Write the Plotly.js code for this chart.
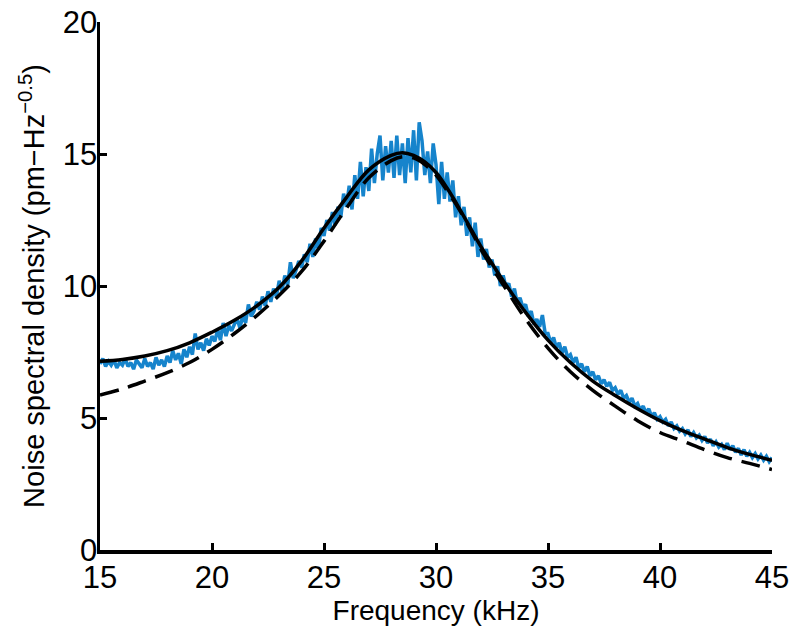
<!DOCTYPE html>
<html>
<head>
<meta charset="utf-8">
<script src="https://cdn.plot.ly/plotly-3.0.1.min.js"></script>
<style>html,body{margin:0;padding:0;background:#fff;}#chart{width:800px;height:635px;}</style>
</head>
<body>
<div id="chart"></div>
<script>
// Measured noise spectral density (blue), sampled from 15 kHz every 0.125 kHz
const measStart = 15;
const measStep = 0.125;
const measured = [
  7.05,7.25,6.95,7.15,7.0,7.2,6.9,7.1,
  7.0,7.25,6.95,7.1,6.85,7.2,7.05,6.9,
  7.25,6.95,7.1,6.85,7.3,7.0,7.2,6.95,
  7.35,7.1,7.55,7.2,7.45,7.05,7.6,7.3,
  7.7,7.4,8.2,7.6,7.85,7.55,8.0,7.75,
  8.1,7.9,8.35,7.95,8.6,8.1,8.5,8.3,
  8.55,8.75,8.4,8.9,8.6,9.3,8.85,9.05,
  9.4,9.1,9.6,9.25,9.8,9.4,9.9,9.6,
  10.2,9.8,10.4,10.0,10.9,10.3,10.6,10.95,
  10.7,11.2,10.9,11.6,11.1,11.8,11.4,12.2,
  11.9,12.5,12.1,12.8,12.3,13.0,12.6,13.5,
  13.0,13.8,12.9,14.2,13.3,14.7,13.4,14.5,
  13.6,15.2,13.9,15.0,15.7,14.0,15.3,14.3,
  15.5,14.1,15.7,14.2,15.4,13.9,15.6,14.3,
  15.9,14.0,16.2,15.5,14.2,15.1,13.9,15.4,
  14.6,13.1,14.7,13.3,14.3,13.2,14.0,12.6,
  13.4,12.3,13.0,11.9,12.6,11.5,12.4,11.1,
  11.8,11.0,11.4,10.7,11.0,10.4,10.75,10.0,
  10.4,9.95,10.1,9.6,9.9,9.35,9.55,9.2,
  9.3,8.85,9.05,8.55,8.75,8.45,8.9,8.2,
  8.2,7.85,8.05,7.65,7.85,7.45,7.7,7.3,
  7.4,7.1,7.3,6.9,7.05,6.75,6.95,6.6,
  6.75,6.45,6.6,6.3,6.45,6.2,6.35,6.05,
  6.15,5.9,6.05,5.75,5.85,5.6,5.75,5.45,
  5.55,5.3,5.45,5.2,5.35,5.05,5.2,4.95,
  5.05,4.85,4.95,4.7,4.85,4.6,4.7,4.5,
  4.6,4.4,4.55,4.3,4.45,4.25,4.35,4.15,
  4.3,4.05,4.2,3.95,4.1,3.9,4.0,3.8,
  4.05,3.8,3.95,3.7,3.85,3.6,3.8,3.55,
  3.7,3.5,3.65,3.45,3.6,3.4,3.55,3.35,
  3.5
];

// Fit curves (solid and dashed)
const fitFreq = [15,16,17,18,19,20,21,22,23,24,25,26,27,28,28.5,29,29.5,30,30.5,31,31.5,32,32.5,33,34,35,36,37,38,39,40,41,42,43,44,45];
const fitSolid = [7.15,7.22,7.35,7.55,7.85,8.25,8.7,9.25,9.95,10.95,12.2,13.35,14.4,14.95,15.05,14.95,14.7,14.3,13.7,13.0,12.25,11.5,10.85,10.2,9.0,7.95,7.1,6.4,5.85,5.35,4.9,4.52,4.2,3.88,3.62,3.4];
const fitDashed = [5.87,6.1,6.4,6.72,7.1,7.6,8.2,8.88,9.65,10.55,11.7,12.95,14.1,14.75,14.9,14.85,14.6,14.2,13.6,12.95,12.2,11.4,10.7,10.05,8.75,7.65,6.75,6.05,5.45,4.9,4.45,4.13,3.8,3.5,3.28,3.05];

const xTicks = [15,20,25,30,35,40,45];
const yTicks = [0,5,10,15,20];

const traces = [
  {x0: measStart, dx: measStep, y: measured, type: 'scatter', mode: 'lines',
   line: {color: '#1684cc', width: 3.5}, hoverinfo: 'skip'},
  {x: fitFreq, y: fitDashed, type: 'scatter', mode: 'lines',
   line: {color: '#000', width: 3.5, dash: '19px,10px', shape: 'spline'}},
  {x: fitFreq, y: fitSolid, type: 'scatter', mode: 'lines',
   line: {color: '#000', width: 3.5, shape: 'spline'}}
];

const font = {family: 'Liberation Sans, Arial, Helvetica, sans-serif', color: '#000'};

const layout = {
  width: 800, height: 635,
  margin: {l: 100, r: 28, t: 22, b: 85, pad: 0},
  paper_bgcolor: '#fff', plot_bgcolor: '#fff',
  showlegend: false,
  font: font,
  xaxis: {
    range: [15, 45], tickvals: xTicks, ticktext: xTicks.map(String),
    showgrid: false, zeroline: false,
    showline: true, linecolor: '#000', linewidth: 3.5,
    ticks: 'inside', ticklen: 7, tickwidth: 3, tickcolor: '#000',
    tickfont: {family: font.family, size: 31, color: '#000'},
    ticklabelstandoff: -3,
    title: {text: 'Frequency (kHz)', font: {family: font.family, size: 28, color: '#000'}, standoff: 0}
  },
  yaxis: {
    range: [0, 20], tickvals: yTicks, ticktext: yTicks.map(String),
    showgrid: false, zeroline: false,
    showline: true, linecolor: '#000', linewidth: 3.5,
    ticks: 'inside', ticklen: 7, tickwidth: 3, tickcolor: '#000',
    tickfont: {family: font.family, size: 31, color: '#000'},
    ticklabelstandoff: -7,
    title: {text: 'Noise spectral density (pm\u2212Hz<sup>\u22120.5</sup>)', font: {family: font.family, size: 29, color: '#000'}, standoff: 10}
  }
};

Plotly.newPlot('chart', traces, layout, {staticPlot: true, displayModeBar: false});
</script>
</body>
</html>
